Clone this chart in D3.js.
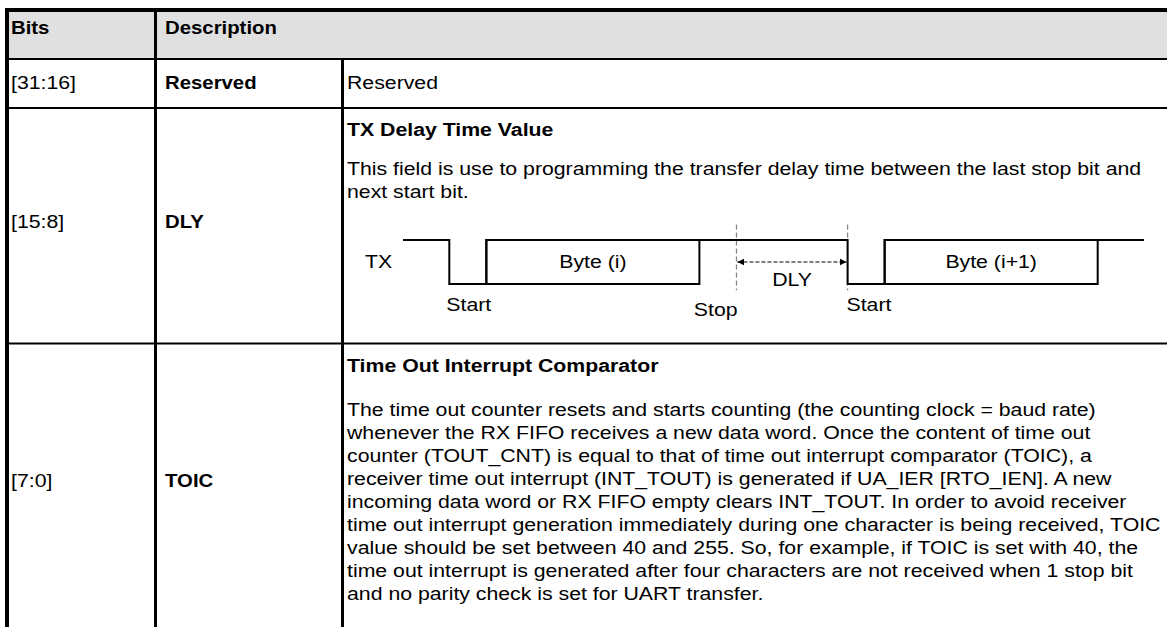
<!DOCTYPE html>
<html>
<head>
<meta charset="utf-8">
<script src="https://cdn.jsdelivr.net/npm/d3@7/dist/d3.min.js"></script>
<style>
  html, body { margin: 0; padding: 0; background: #ffffff; }
  svg { display: block; }
</style>
</head>
<body>
<svg id="chart" width="1167" height="627"></svg>
<script>
// ---------------- data ----------------
const headers = ["Bits", "Description"];
const bits = ["[31:16]", "[15:8]", "[7:0]"];
const fieldNames = ["Reserved", "DLY", "TOIC"];
const titles = ["", "TX Delay Time Value", "Time Out Interrupt Comparator"];
const reservedDesc = ["Reserved"];
const dlyLines = [
  "This field is use to programming the transfer delay time between the last stop bit and",
  "next start bit."
];
const toicLines = [
  "The time out counter resets and starts counting (the counting clock = baud rate)",
  "whenever the RX FIFO receives a new data word. Once the content of time out",
  "counter (TOUT_CNT) is equal to that of time out interrupt comparator (TOIC), a",
  "receiver time out interrupt (INT_TOUT) is generated if UA_IER [RTO_IEN]. A new",
  "incoming data word or RX FIFO empty clears INT_TOUT. In order to avoid receiver",
  "time out interrupt generation immediately during one character is being received, TOIC",
  "value should be set between 40 and 255. So, for example, if TOIC is set with 40, the",
  "time out interrupt is generated after four characters are not received when 1 stop bit",
  "and no parity check is set for UART transfer."
];
// TX waveform: [time, level]
const txWave = [[0,1],[1.25,1],[1.25,0],[2.25,0],[2.25,1],[12,1],[12,0],[13,0],[13,1],[20,1]];
const byteFrames = [
  {label: "Byte (i)", start: 2.25, end: 8},
  {label: "Byte (i+1)", start: 13, end: 18.75}
];
const markerTimes = [9, 12];
const dlySpan = {from: 9, to: 12, label: "DLY"};
const edgeLabels = [
  {text: "Start", t: 1.17, lvl: -0.61},
  {text: "Stop",  t: 7.85, lvl: -0.72},
  {text: "Start", t: 11.97, lvl: -0.61}
];
const signalName = "TX";

// ---------------- layout ----------------
const W = 1167, H = 627;
const FONT = "'Liberation Sans', Arial, Helvetica, sans-serif";
const FS = 18.5, SX = 1.15, LH = 23;
const svg = d3.select("#chart");

const colX = [7, 155.5, 342.5];            // vertical rule positions
const rowY = [10, 59, 108, 343.5, 700];    // horizontal rule positions
const textX = [11, 165, 347];

function txt(g, s, x, y, opts = {}) {
  return g.append("text")
    .attr("transform", `translate(${x},${y}) scale(${opts.sx || SX},1)`)
    .attr("text-anchor", opts.anchor || "start")
    .attr("font-family", FONT)
    .attr("font-size", opts.size || FS)
    .attr("font-weight", opts.bold ? "bold" : "normal")
    .attr("fill", "#000")
    .text(s);
}

// header background
svg.append("rect").attr("x", 9).attr("y", 12).attr("width", W - 9).attr("height", 46)
  .attr("fill", "#e0e0e0");

// grid rules
const rules = svg.append("g").attr("stroke", "#000");
rules.append("line").attr("x1", 5).attr("x2", W).attr("y1", rowY[0]).attr("y2", rowY[0]).attr("stroke-width", 4);
rules.append("line").attr("x1", colX[0]).attr("x2", colX[0]).attr("y1", 8).attr("y2", H).attr("stroke-width", 4);
rowY.slice(1, 4).forEach(y => {
  rules.append("line").attr("x1", 9).attr("x2", W).attr("y1", y).attr("y2", y).attr("stroke-width", 2);
});
rules.append("line").attr("x1", colX[1]).attr("x2", colX[1]).attr("y1", 12).attr("y2", H).attr("stroke-width", 3);
rules.append("line").attr("x1", colX[2]).attr("x2", colX[2]).attr("y1", rowY[1]).attr("y2", H).attr("stroke-width", 3);

// header text
const tg = svg.append("g");
txt(tg, headers[0], textX[0], 34, {bold: true, sx: 1.1});
txt(tg, headers[1], textX[1], 34, {bold: true, sx: 1.1});

// bits / names
const bitBase = [89, 228, 487];
bits.forEach((b, i) => {
  txt(tg, b, textX[0], bitBase[i]);
  txt(tg, fieldNames[i], textX[1], bitBase[i], {bold: true, sx: 1.1});
});

// Reserved description
txt(tg, reservedDesc[0], textX[2], 89);

// DLY description
txt(tg, titles[1], textX[2], 136, {bold: true});
dlyLines.forEach((l, i) => txt(tg, l, textX[2], 175 + i * LH));

// TOIC description
txt(tg, titles[2], textX[2], 372, {bold: true});
toicLines.forEach((l, i) => txt(tg, l, textX[2], 416 + i * LH));

// ---------------- timing diagram ----------------
const x = d3.scaleLinear().domain([0, 20]).range([403, 1144]);
const y = d3.scaleLinear().domain([0, 1]).range([284, 240]);
const dg = svg.append("g");

// dashed markers
dg.selectAll("line.mark").data(markerTimes).join("line")
  .attr("class", "mark")
  .attr("x1", d => x(d)).attr("x2", d => x(d))
  .attr("y1", y(1.35)).attr("y2", y(-0.14))
  .attr("stroke", "#808080").attr("stroke-width", 1.2).attr("stroke-dasharray", "5,3");

// byte frames
dg.selectAll("rect.byte").data(byteFrames).join("rect")
  .attr("class", "byte")
  .attr("x", d => x(d.start)).attr("y", y(1))
  .attr("width", d => x(d.end) - x(d.start)).attr("height", y(0) - y(1))
  .attr("fill", "none").attr("stroke", "#000").attr("stroke-width", 2);

// TX line
dg.append("path").datum(txWave)
  .attr("d", d3.line().x(d => x(d[0])).y(d => y(d[1])))
  .attr("fill", "none").attr("stroke", "#000").attr("stroke-width", 2);

// byte labels
byteFrames.forEach(d => txt(dg, d.label, (x(d.start) + x(d.end)) / 2, y(0.5) + 6, {anchor: "middle"}));

// signal name
txt(dg, signalName, 365, y(0.5) + 6);

// DLY arrow
const defs = svg.append("defs");
defs.append("marker").attr("id", "ah").attr("viewBox", "0 0 10 10")
  .attr("refX", 10).attr("refY", 5).attr("markerWidth", 7).attr("markerHeight", 8)
  .attr("markerUnits", "userSpaceOnUse").attr("orient", "auto-start-reverse")
  .append("path").attr("d", "M0,0 L10,5 L0,10 Z").attr("fill", "#000");
dg.append("line")
  .attr("x1", x(dlySpan.from) + 1).attr("x2", x(dlySpan.to) - 1)
  .attr("y1", y(0.5)).attr("y2", y(0.5))
  .attr("stroke", "#000").attr("stroke-width", 1).attr("stroke-dasharray", "4,2")
  .attr("marker-start", "url(#ah)").attr("marker-end", "url(#ah)");
txt(dg, dlySpan.label, (x(dlySpan.from) + x(dlySpan.to)) / 2, y(-0.05), {anchor: "middle"});

// edge labels
edgeLabels.forEach(d => txt(dg, d.text, x(d.t), y(d.lvl)));
</script>
</body>
</html>
